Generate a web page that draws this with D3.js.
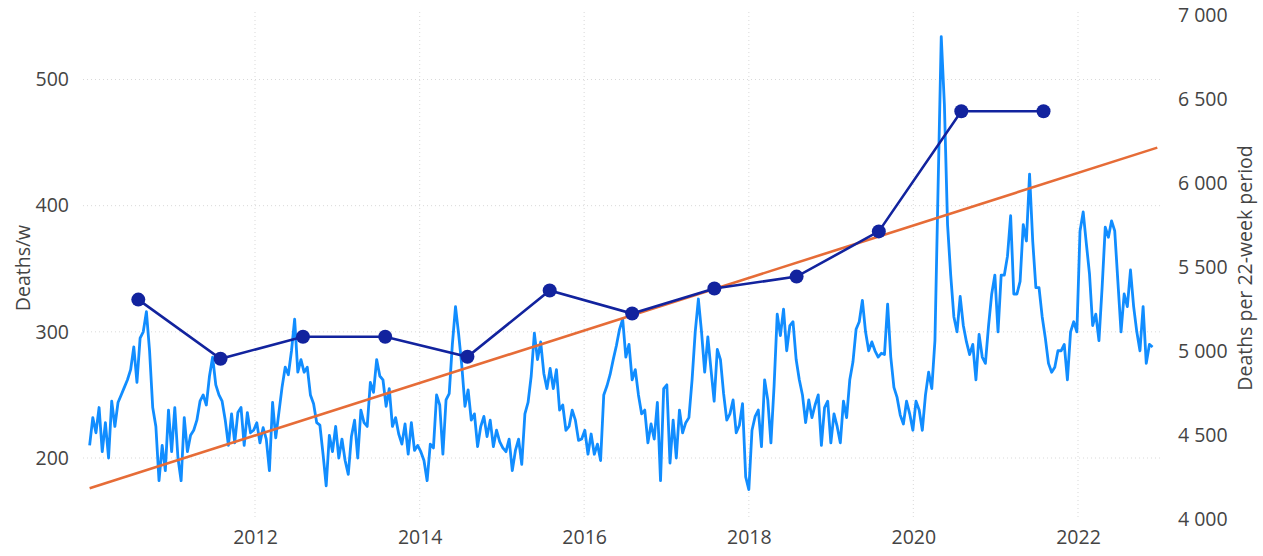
<!DOCTYPE html>
<html>
<head>
<meta charset="utf-8">
<script src="https://cdn.jsdelivr.net/npm/d3@7"></script>
<style>
  html, body { margin: 0; padding: 0; background: #ffffff; }
  svg { display: block; }
  text { font-family: "Open Sans", "Noto Sans", sans-serif; fill: #444444; }
</style>
</head>
<body>
<svg id="chart" width="1263" height="556"></svg>
<script>
// ---------- DATA ----------
// Weekly deaths, sampled every 2 weeks, starting date below
const weeklyStart = "2009-12-28";
const weeklyStepWeeks = 2;
const deaths2010 = [210,232,220,240,205,228,200,245,225,244,250,256,262,270,288,260,295,300,316,285,240,225,182,210,190,238];
const deaths2011 = [205,240,200,182,232,205,218,222,230,245,250,242,265,280,258,250,245,230,210,235,212,236,240,210,236,220];
const deaths2012 = [222,228,212,224,215,190,244,216,236,256,272,266,285,310,268,278,268,272,250,243,228,226,203,178,218,205];
const deaths2013 = [225,200,215,198,187,217,230,200,238,228,225,260,252,278,265,262,241,255,225,232,219,211,227,203,228,206];
const deaths2014 = [210,205,198,182,211,208,250,242,203,246,251,290,320,298,273,241,254,230,235,209,225,233,217,230,209,222];
const deaths2015 = [213,208,205,215,190,206,215,195,235,244,265,299,278,292,267,255,271,255,270,238,242,222,225,238,230,214];
const deaths2016 = [215,222,203,219,203,211,198,250,257,266,278,289,302,310,280,290,262,270,250,235,238,212,227,215,244,182];
const deaths2017 = [255,258,196,230,200,238,220,228,232,262,300,326,300,268,296,270,245,286,278,251,230,235,246,220,226,243];
const deaths2018 = [185,175,222,233,238,209,262,246,212,257,314,297,318,285,305,308,278,262,250,228,246,232,242,250,210,240];
const deaths2019 = [245,212,235,225,212,245,232,262,276,302,308,325,300,285,292,285,280,283,282,322,280,256,248,234,227,245];
const deaths2020 = [235,222,245,238,222,250,268,255,293,415,534,480,385,345,312,300,328,305,292,282,290,262,298,280,275,305];
const deaths2021 = [330,345,300,345,345,360,392,330,330,340,385,372,425,372,335,335,312,295,275,268,272,285,285,290,262,300];
const deaths2022 = [308,300,380,395,370,346,305,314,293,335,383,375,388,380,340,300,330,320,349,320,300,285,320,275,290,288];

// Deaths per 22-week period (right axis), one per year
const periodDates = ["2010-08-01","2011-08-01","2012-08-01","2013-08-01","2014-08-01","2015-08-01",
                     "2016-08-01","2017-08-01","2018-08-01","2019-08-01","2020-08-01","2021-08-01"];
const periodDeaths = [5306,4954,5085,5085,4966,5360,5223,5372,5443,5712,6427,6427];

// Trend line (left axis values at both ends)
const trendDates = ["2009-12-28","2022-12-19"];
const trendValues = [176,446];

// Ticks
const leftTicks = [200,300,400,500];
const rightTicks = [4000,4500,5000,5500,6000,6500,7000];
const yearTicks = [2012,2014,2016,2018,2020,2022];

const leftTitle = "Deaths/w";
const rightTitle = "Deaths per 22-week period";

// ---------- BUILD ----------
const parse = d3.timeParse("%Y-%m-%d");
const allDeaths = [].concat(deaths2010,deaths2011,deaths2012,deaths2013,deaths2014,deaths2015,
  deaths2016,deaths2017,deaths2018,deaths2019,deaths2020,deaths2021,deaths2022);
const start = parse(weeklyStart);
const weekly = allDeaths.map((v,i) => ({date: d3.timeWeek.offset(start, i*weeklyStepWeeks), value: v}));
const periods = periodDates.map((d,i) => ({date: parse(d), value: periodDeaths[i]}));
const trend = trendDates.map((d,i) => ({date: parse(d), value: trendValues[i]}));

const svg = d3.select("#chart");

const x = d3.scaleTime()
  .domain([new Date(2012,0,1), new Date(2022,0,1)])
  .range([255, 1078]);
const yL = d3.scaleLinear().domain([200,500]).range([458,79.5]);
const yR = d3.scaleLinear().domain([4000,7000]).range([519,15]);

const plotLeft = 83, plotRight = 1160, plotTop = 12, plotBottom = 519;
const tickFont = 19.5, titleFont = 19.5, textColor = "#454545";

// gridlines
const grid = svg.append("g");
grid.selectAll("line.h").data(leftTicks).join("line")
  .attr("x1", plotLeft).attr("x2", plotRight)
  .attr("y1", d => yL(d)).attr("y2", d => yL(d))
  .attr("stroke", "#d9d9d9").attr("stroke-width", 1).attr("stroke-dasharray", "1,3");
grid.selectAll("line.v").data(yearTicks).join("line")
  .attr("x1", d => x(new Date(d,0,1))).attr("x2", d => x(new Date(d,0,1)))
  .attr("y1", plotTop).attr("y2", plotBottom)
  .attr("stroke", "#d9d9d9").attr("stroke-width", 1).attr("stroke-dasharray", "1,3");

// axes (text only)
const axL = svg.append("g").attr("transform", "translate(69,0)")
  .call(d3.axisLeft(yL).tickValues(leftTicks).tickSize(0).tickPadding(0));
const axR = svg.append("g").attr("transform", "translate(1178,0)")
  .call(d3.axisRight(yR).tickValues(rightTicks).tickSize(0).tickPadding(0)
    .tickFormat(v => d3.format(",")(v).replace(/,/g, " ")));
const axX = svg.append("g").attr("transform", "translate(0,530)")
  .call(d3.axisBottom(x).tickValues(yearTicks.map(y => new Date(y,0,1)))
    .tickSize(0).tickPadding(0).tickFormat(d3.timeFormat("%Y")));
[axL, axR, axX].forEach(a => {
  a.select(".domain").remove();
  a.selectAll("text").attr("font-size", tickFont).attr("fill", textColor)
    .attr("font-family", "\"Open Sans\", sans-serif");
});

// titles
svg.append("text").attr("transform", "translate(30,268) rotate(-90)")
  .attr("text-anchor", "middle").attr("font-size", titleFont).attr("fill", textColor).text(leftTitle);
svg.append("text").attr("transform", "translate(1252,268) rotate(-90)")
  .attr("text-anchor", "middle").attr("font-size", titleFont).attr("fill", textColor).text(rightTitle);

// weekly line
svg.append("path").datum(weekly)
  .attr("fill", "none").attr("stroke", "#118DFF").attr("stroke-width", 2.8)
  .attr("stroke-linejoin", "round")
  .attr("d", d3.line().x(d => x(d.date)).y(d => yL(d.value)));

// trend line
svg.append("path").datum(trend)
  .attr("fill", "none").attr("stroke", "#E66C37").attr("stroke-width", 2.6)
  .attr("d", d3.line().x(d => x(d.date)).y(d => yL(d.value)));

// period line + dots
svg.append("path").datum(periods)
  .attr("fill", "none").attr("stroke", "#12239E").attr("stroke-width", 2.6)
  .attr("d", d3.line().x(d => x(d.date)).y(d => yR(d.value)));
svg.selectAll("circle.p").data(periods).join("circle")
  .attr("cx", d => x(d.date)).attr("cy", d => yR(d.value)).attr("r", 7)
  .attr("fill", "#12239E");
</script>
</body>
</html>
